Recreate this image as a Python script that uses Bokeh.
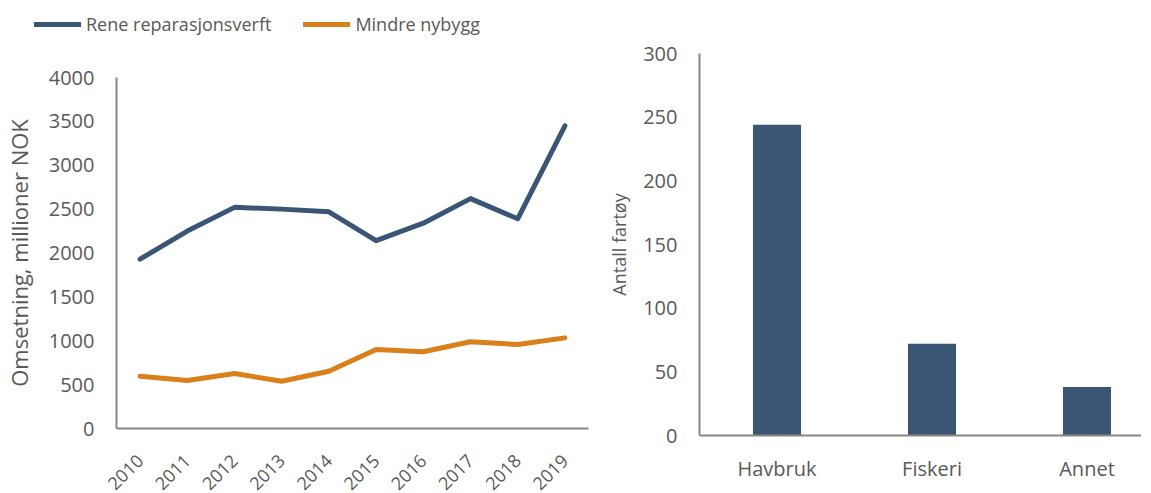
from bokeh.plotting import figure
from bokeh.layouts import row, column
from bokeh.models import (ColumnDataSource, Range1d, FactorRange, FixedTicker,
                          Legend, LegendItem)
from bokeh.embed import file_html
from bokeh.resources import INLINE

# ---- data ----
years = ["2010", "2011", "2012", "2013", "2014", "2015", "2016", "2017", "2018", "2019"]
rene_reparasjonsverft = [1930, 2250, 2520, 2500, 2470, 2140, 2340, 2620, 2390, 3450]
mindre_nybygg = [596, 547, 627, 539, 653, 900, 874, 988, 957, 1033]

segments = ["Havbruk", "Fiskeri", "Annet"]
antall_fartoy = [244, 72, 38]

left_ticks = [0, 500, 1000, 1500, 2000, 2500, 3000, 3500, 4000]
right_ticks = [0, 50, 100, 150, 200, 250, 300]

BLUE = "#3A5674"
ORANGE = "#D9801A"
AXIS = "#8C8680"
TEXT = "#595959"
FONT = "Open Sans"

# ---- legend strip above the line chart ----
leg = figure(frame_width=596, frame_height=36, output_backend="svg", toolbar_location=None,
             min_border=0, min_border_top=7, x_axis_type=None, y_axis_type=None,
             x_range=Range1d(0, 1), y_range=Range1d(0, 1))
leg.grid.visible = False
leg.outline_line_color = None
nan = float("nan")
lr1 = leg.line(x=[nan, nan], y=[nan, nan], line_color=BLUE, line_width=5, line_cap="round")
lr2 = leg.line(x=[nan, nan], y=[nan, nan], line_color=ORANGE, line_width=5, line_cap="round")
legend = Legend(items=[LegendItem(label="Rene reparasjonsverft", renderers=[lr1]),
                       LegendItem(label="Mindre nybygg", renderers=[lr2])],
                orientation="horizontal", location=(34, 7),
                glyph_width=47, glyph_height=24, label_standoff=5, spacing=32,
                padding=0, margin=0, background_fill_alpha=0, border_line_color=None,
                label_text_font=FONT, label_text_font_size="18px", label_text_color=TEXT)
leg.add_layout(legend, "center")

# ---- left: line chart ----
p1 = figure(frame_width=472, frame_height=351, x_range=FactorRange(*years),
            y_range=Range1d(0, 4000), output_backend="svg", toolbar_location=None,
            min_border_left=112, min_border_right=12, min_border_top=34,
            min_border_bottom=62)
src = ColumnDataSource(dict(year=years, rene=rene_reparasjonsverft, mindre=mindre_nybygg))
p1.line("year", "rene", source=src, line_color=BLUE, line_width=5, line_cap="round",
        line_join="round")
p1.line("year", "mindre", source=src, line_color=ORANGE, line_width=5, line_cap="round",
        line_join="round")

p1.yaxis.ticker = FixedTicker(ticks=left_ticks)
p1.yaxis.axis_label = "Omsetning, millioner NOK"
p1.yaxis.axis_label_text_font = FONT
p1.yaxis.axis_label_text_font_size = "22px"
p1.yaxis.axis_label_text_font_style = "normal"
p1.yaxis.axis_label_text_color = TEXT
p1.yaxis.axis_label_standoff = 12
p1.xaxis.major_label_orientation = 0.785398

# ---- right: bar chart ----
p2 = figure(frame_width=442, frame_height=382, x_range=Range1d(0, 442 / 155),
            y_range=Range1d(0, 300), output_backend="svg", toolbar_location=None,
            min_border_left=99, min_border_right=0, min_border_top=53,
            min_border_bottom=42)
xpos = [i + 0.5 for i in range(len(segments))]
bsrc = ColumnDataSource(dict(x=xpos, n=antall_fartoy))
p2.vbar(x="x", top="n", width=0.31, source=bsrc, fill_color=BLUE, line_color=None)
p2.xaxis.ticker = FixedTicker(ticks=xpos)
p2.xaxis.major_label_overrides = {x: s for x, s in zip(xpos, segments)}
p2.yaxis.ticker = FixedTicker(ticks=right_ticks)
p2.yaxis.axis_label = "Antall fartøy"
p2.yaxis.axis_label_text_font = FONT
p2.yaxis.axis_label_text_font_size = "18px"
p2.yaxis.axis_label_text_font_style = "normal"
p2.yaxis.axis_label_text_color = TEXT
p2.yaxis.axis_label_standoff = 9

for p in [p1, p2]:
    p.xgrid.grid_line_color = None
    p.ygrid.grid_line_color = None
    p.outline_line_color = None
    p.background_fill_color = "white"
    for ax in [p.xaxis[0], p.yaxis[0]]:
        ax.axis_line_color = AXIS
        ax.axis_line_width = 2
        ax.major_tick_line_color = None
        ax.minor_tick_line_color = None
        ax.major_tick_out = 0
        ax.major_tick_in = 0
        ax.minor_tick_out = 0
        ax.minor_tick_in = 0
        ax.major_label_text_font = FONT
        ax.major_label_text_font_size = "20px"
        ax.major_label_text_color = TEXT
    p.yaxis.major_label_standoff = 22

p1.xaxis.major_label_standoff = 29
p1.xaxis.major_label_text_font_size = "18px"
p2.xaxis.major_label_standoff = 19

layout = row(column(leg, p1), p2)
open("out.html", "w").write(file_html(layout, INLINE))
